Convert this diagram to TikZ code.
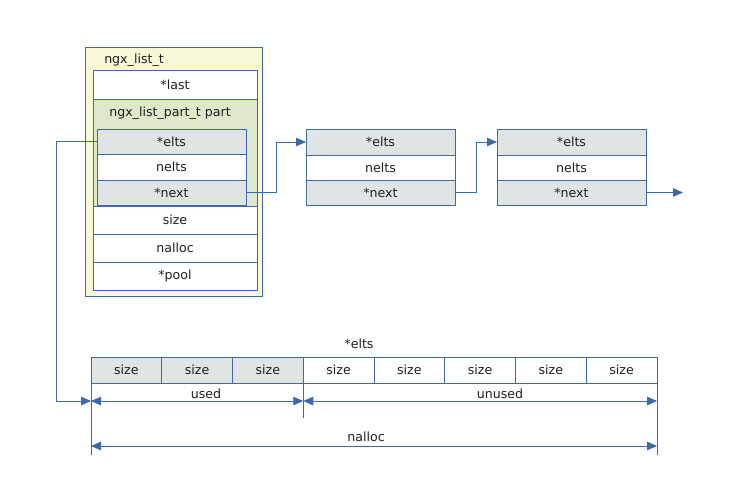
\documentclass[tikz,border=0pt]{standalone}
\usepackage{fontspec}
\setmainfont{DejaVu Sans}
\usetikzlibrary{arrows.meta}
\definecolor{lineblue}{RGB}{62,104,170}
\definecolor{listfill}{RGB}{248,248,214}
\definecolor{partfill}{RGB}{222,232,202}
\definecolor{cellgray}{RGB}{222,229,228}
\definecolor{txt}{RGB}{30,30,30}
\tikzset{
  box/.style={draw=lineblue, line width=0.9pt, inner sep=0pt, outer sep=0pt,
    font=\fontsize{12.6}{14}\selectfont, text=txt},
  field/.style={box, fill=white},
  shaded/.style={box, fill=cellgray},
  lbl/.style={inner sep=0pt, font=\fontsize{12.6}{14}\selectfont, text=txt},
  link/.style={draw=lineblue, line width=0.9pt, -{Triangle[length=10pt,width=8.5pt]}},
  dim/.style={draw=lineblue, line width=0.9pt,
    {Triangle[length=10pt,width=8.5pt]}-{Triangle[length=10pt,width=8.5pt]}},
  ext/.style={draw=lineblue, line width=0.9pt}
}
\begin{document}
\begin{tikzpicture}[x=1pt, y=-1pt]
\useasboundingbox (0,0) rectangle (744,496);

% ngx_list_t
\node[box, fill=listfill, minimum width=177, minimum height=249] (list) at (173.5,171.5) {};
\node[lbl] (listname) at (134,60) {ngx\_list\_t};
\node[field, minimum width=164, minimum height=29] (last) at (175,84.5) {*last};
\node[box, fill=partfill, minimum width=164, minimum height=107] (part) at (175,152.5) {};
\node[lbl] (partname) at (170,113) {ngx\_list\_part\_t part};
\node[shaded, minimum width=149, minimum height=25] (eltsA) at (171.5,141.5) {*elts};
\node[field, minimum width=149, minimum height=26] (neltsA) at (171.5,167) {nelts};
\node[shaded, minimum width=149, minimum height=25] (nextA) at (171.5,192.5) {*next};
\node[field, minimum width=164, minimum height=28] (size) at (175,220) {size};
\node[field, minimum width=164, minimum height=28] (nalloc) at (175,248) {nalloc};
\node[field, minimum width=164, minimum height=28] (pool) at (175,276) {*pool};

% further list parts
\foreach \n/\cx in {B/380.5, C/571.5} {
  \node[shaded, minimum width=149, minimum height=26] (elts\n) at (\cx,142) {*elts};
  \node[field, minimum width=149, minimum height=25] (nelts\n) at (\cx,167.5) {nelts};
  \node[shaded, minimum width=149, minimum height=25] (next\n) at (\cx,192.5) {*next};
}
\coordinate (tail) at (683,192.5);

\draw[link] (nextA.east) -- ++(30,0) |- (eltsB.west);
\draw[link] (nextB.east) -- ++(21,0) |- (eltsC.west);
\draw[link] (nextC.east) -- (tail);

% element array
\node[lbl] (arrname) at (359,344) {*elts};
\foreach \i in {1,...,8} {
  \pgfmathsetmacro{\cx}{91+70.75*(\i-0.5)}
  \ifnum\i<4
    \node[shaded, minimum width=70.75, minimum height=26] (c\i) at (\cx,370) {size};
  \else
    \node[field, minimum width=70.75, minimum height=26] (c\i) at (\cx,370) {size};
  \fi
}

% extension lines and dimension arrows
\draw[ext] (c1.south west) -- ++(0,72);
\draw[ext] (c3.south east) -- ++(0,35);
\draw[ext] (c8.south east) -- ++(0,72);

\path (c1.south west) ++(0,18) coordinate (usedL);
\path (c3.south east) ++(0,18) coordinate (usedR);
\path (c8.south east) ++(0,18) coordinate (unusedR);
\path (c1.south west) ++(0,63) coordinate (nallocL);
\path (c8.south east) ++(0,63) coordinate (nallocR);

\draw[link] (eltsA.west) -- ++(-41,0) |- (usedL);
\draw[dim] (usedL) -- (usedR);
\draw[dim] (usedR) -- (unusedR);
\draw[dim] (nallocL) -- (nallocR);
\node[lbl] (usedlbl) at (206,394) {used};
\node[lbl] (unusedlbl) at (500,394) {unused};
\node[lbl] (nalloclbl) at (366,437) {nalloc};
\end{tikzpicture}
\end{document}
